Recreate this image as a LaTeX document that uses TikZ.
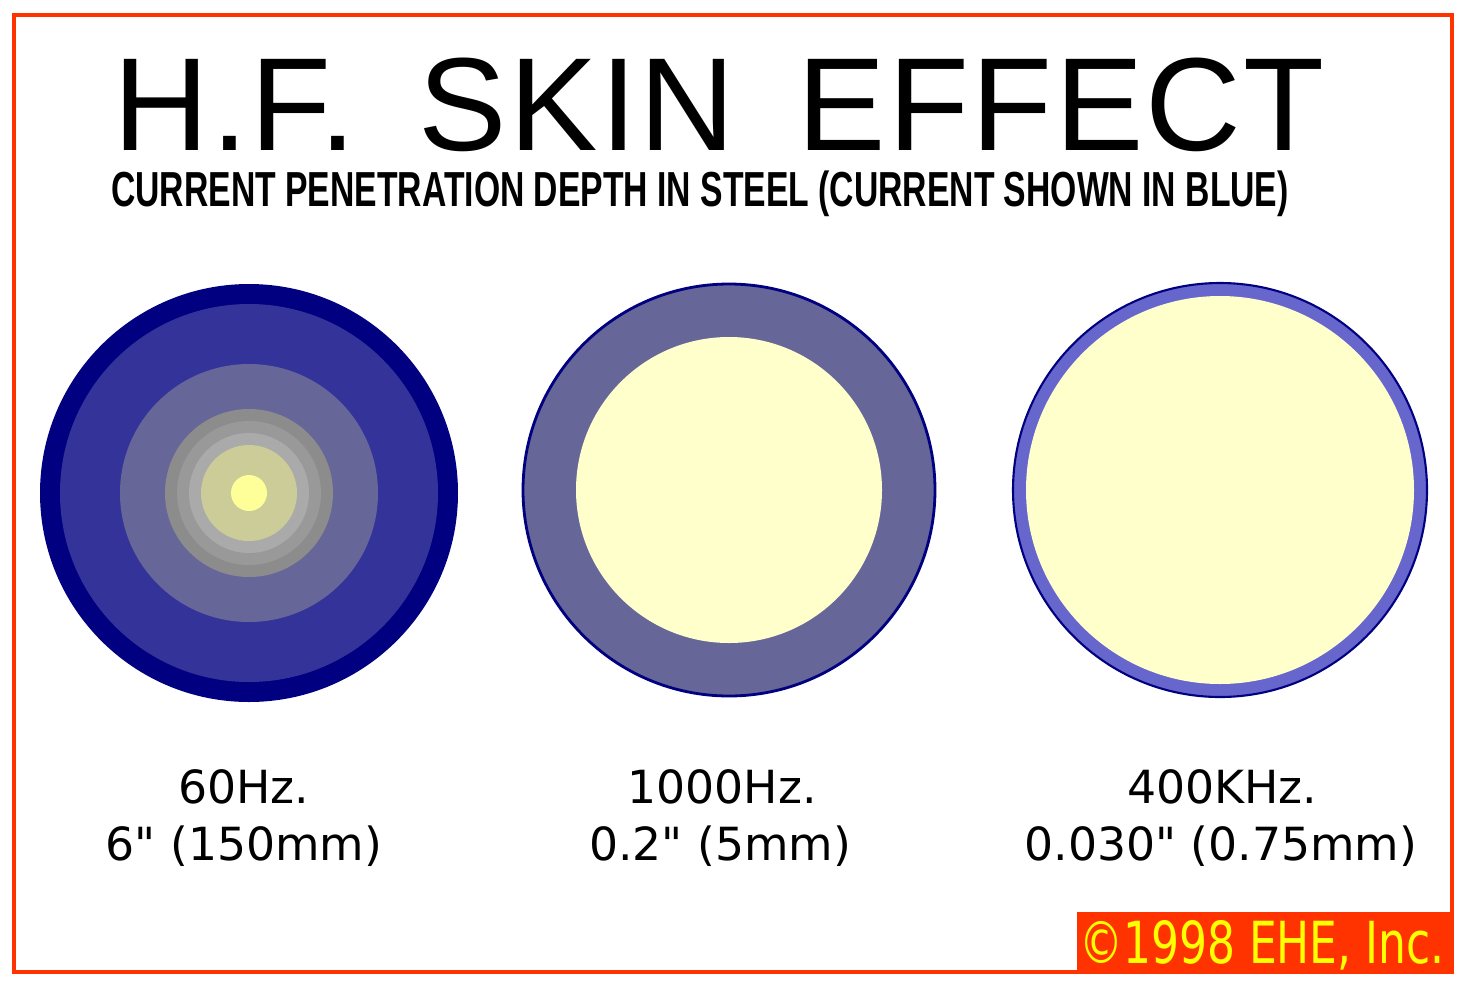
\documentclass[tikz,border=0pt]{standalone}
\usepackage{fontspec}
\usepackage{graphicx}
\usetikzlibrary{positioning}
\newfontfamily\headfont{Liberation Sans}
\newfontfamily\bigfont[LetterSpace=1.8,WordSpace=1.6]{Liberation Sans}
\newfontfamily\labelfont{DejaVu Sans}
\definecolor{skinRed}{RGB}{255,51,0}
\definecolor{skinNavy}{RGB}{0,0,128}
\definecolor{skinBlue}{RGB}{51,51,153}
\definecolor{skinGrayBlue}{RGB}{102,102,153}
\definecolor{skinViolet}{RGB}{102,102,204}
\definecolor{skinGrayA}{RGB}{140,140,140}
\definecolor{skinGrayB}{RGB}{153,153,153}
\definecolor{skinGrayC}{RGB}{170,170,170}
\definecolor{skinOlive}{RGB}{204,204,153}
\definecolor{skinCore}{RGB}{255,255,153}
\definecolor{skinCream}{RGB}{255,255,204}
\definecolor{skinYellow}{RGB}{255,255,0}

\begin{document}
\begin{tikzpicture}[
  x=0.1mm,y=-0.1mm,
  every node/.style={inner sep=0pt,anchor=base},
  title/.style={font=\bigfont\fontsize{37.7}{40}\selectfont},
  subtitle/.style={font=\headfont\bfseries\fontsize{14}{16}\selectfont},
  freq/.style={font=\labelfont\fontsize{13}{15}\selectfont},
  copy/.style={font=\labelfont\fontsize{16.5}{18}\selectfont,text=skinYellow}
]
\useasboundingbox (0,0) rectangle (1468,986);
\fill[white] (0,0) rectangle (1468,986);
\draw[skinRed,line width=0.9pt] (14,15) rectangle (1452,972);

\node[title] (head) at (719,150) {H.F. SKIN EFFECT};
\node[subtitle] (sub) at (700,206) {\resizebox{335pt}{\height}{CURRENT PENETRATION DEPTH IN STEEL (CURRENT SHOWN IN BLUE)}};

\coordinate (c1) at (249,493);
\coordinate (c2) at (729,490);
\coordinate (c3) at (1220,490);

% 60 Hz: current spread through the bar
\foreach \r/\c in {20.9/skinNavy,18.9/skinBlue,12.9/skinGrayBlue,8.4/skinGrayA,
                   7.2/skinGrayB,6.0/skinGrayC,4.8/skinOlive,1.8/skinCore}
  \fill[\c] (c1) circle (\r mm);

% 1000 Hz
\draw[skinNavy,line width=0.8pt,fill=skinGrayBlue] (c2) circle (20.6mm);
\fill[skinCream] (c2) circle (15.3mm);

% 400 kHz: thin skin only
\draw[skinNavy,line width=0.6pt,fill=skinViolet] (c3) circle (20.7mm);
\fill[skinCream] (c3) circle (19.4mm);

\node[freq] (f1) at (244,803) {60Hz.};
\node[freq] (d1) at (244,860) {6" (150mm)};
\node[freq] (f2) at (722,803) {1000Hz.};
\node[freq] (d2) at (720,860) {0.2" (5mm)};
\node[freq] (f3) at (1222,803) {400KHz.};
\node[freq] (d3) at (1221,860) {0.030" (0.75mm)};

\fill[skinRed] (1077,912) rectangle (1452,972);
\node[copy] (cr) at (1262,963) {\resizebox{104pt}{\height}{\textcopyright1998 EHE, Inc.}};
\end{tikzpicture}
\end{document}
